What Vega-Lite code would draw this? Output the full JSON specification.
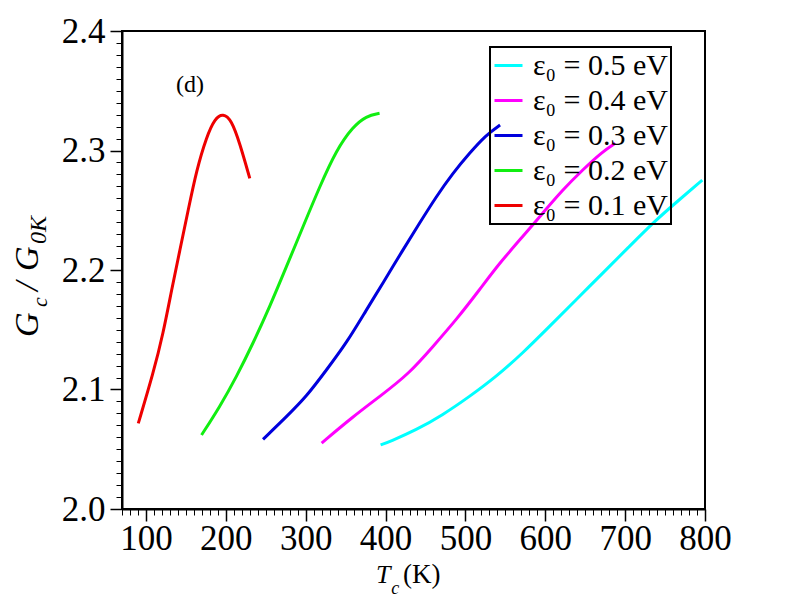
{
  "$schema": "https://vega.github.io/schema/vega-lite/v6.json",
  "width": 583,
  "height": 478,
  "autosize": {"type": "none"},
  "padding": {"left": 122, "top": 31, "right": 87, "bottom": 103},
  "background": "white",
  "config": {
    "view": {"stroke": "black", "strokeWidth": 2},
    "font": "Liberation Serif",
    "text": {"font": "Liberation Serif", "color": "black"},
    "axis": {
      "grid": false,
      "domainColor": "black",
      "domainWidth": 2,
      "tickColor": "black",
      "tickWidth": 1.5,
      "labelColor": "black",
      "labelFont": "Liberation Serif",
      "labelFontSize": 35,
      "title": null
    },
    "legend": {
      "orient": "none",
      "legendX": 368,
      "legendY": 16,
      "title": null,
      "strokeColor": "black",
      "strokeWidth": 2,
      "padding": 3,
      "symbolType": "stroke",
      "symbolSize": 784,
      "symbolStrokeWidth": 3,
      "labelFont": "Liberation Serif",
      "labelFontSize": 30,
      "labelColor": "black",
      "labelOffset": 9,
      "rowPadding": 4
    }
  },
  "datasets": {
    "curves": [
      {"eps": "ε₀ = 0.1 eV", "T": 90.4, "G": 2.0717},
      {"eps": "ε₀ = 0.1 eV", "T": 109.1, "G": 2.1136},
      {"eps": "ε₀ = 0.1 eV", "T": 121.6, "G": 2.147},
      {"eps": "ε₀ = 0.1 eV", "T": 132.1, "G": 2.1833},
      {"eps": "ε₀ = 0.1 eV", "T": 142.5, "G": 2.2167},
      {"eps": "ε₀ = 0.1 eV", "T": 152.9, "G": 2.2502},
      {"eps": "ε₀ = 0.1 eV", "T": 163.4, "G": 2.2837},
      {"eps": "ε₀ = 0.1 eV", "T": 175.9, "G": 2.3116},
      {"eps": "ε₀ = 0.1 eV", "T": 186.3, "G": 2.3269},
      {"eps": "ε₀ = 0.1 eV", "T": 196.6, "G": 2.3311},
      {"eps": "ε₀ = 0.1 eV", "T": 207.1, "G": 2.3255},
      {"eps": "ε₀ = 0.1 eV", "T": 217.5, "G": 2.306},
      {"eps": "ε₀ = 0.1 eV", "T": 230.0, "G": 2.2767},
      {"eps": "ε₀ = 0.2 eV", "T": 169.6, "G": 2.0619},
      {"eps": "ε₀ = 0.2 eV", "T": 192.5, "G": 2.0856},
      {"eps": "ε₀ = 0.2 eV", "T": 213.4, "G": 2.1107},
      {"eps": "ε₀ = 0.2 eV", "T": 234.1, "G": 2.1387},
      {"eps": "ε₀ = 0.2 eV", "T": 255.0, "G": 2.1693},
      {"eps": "ε₀ = 0.2 eV", "T": 275.9, "G": 2.2028},
      {"eps": "ε₀ = 0.2 eV", "T": 296.6, "G": 2.2362},
      {"eps": "ε₀ = 0.2 eV", "T": 317.5, "G": 2.2697},
      {"eps": "ε₀ = 0.2 eV", "T": 338.4, "G": 2.3004},
      {"eps": "ε₀ = 0.2 eV", "T": 359.1, "G": 2.3199},
      {"eps": "ε₀ = 0.2 eV", "T": 375.9, "G": 2.3289},
      {"eps": "ε₀ = 0.2 eV", "T": 392.5, "G": 2.3311},
      {"eps": "ε₀ = 0.3 eV", "T": 246.6, "G": 2.0583},
      {"eps": "ε₀ = 0.3 eV", "T": 275.9, "G": 2.0772},
      {"eps": "ε₀ = 0.3 eV", "T": 300.9, "G": 2.094},
      {"eps": "ε₀ = 0.3 eV", "T": 325.9, "G": 2.1163},
      {"eps": "ε₀ = 0.3 eV", "T": 350.9, "G": 2.1387},
      {"eps": "ε₀ = 0.3 eV", "T": 375.9, "G": 2.1665},
      {"eps": "ε₀ = 0.3 eV", "T": 396.6, "G": 2.1889},
      {"eps": "ε₀ = 0.3 eV", "T": 421.6, "G": 2.2167},
      {"eps": "ε₀ = 0.3 eV", "T": 442.5, "G": 2.2391},
      {"eps": "ε₀ = 0.3 eV", "T": 463.4, "G": 2.2613},
      {"eps": "ε₀ = 0.3 eV", "T": 484.1, "G": 2.2809},
      {"eps": "ε₀ = 0.3 eV", "T": 505.0, "G": 2.2977},
      {"eps": "ε₀ = 0.3 eV", "T": 525.9, "G": 2.313},
      {"eps": "ε₀ = 0.3 eV", "T": 543.4, "G": 2.3213},
      {"eps": "ε₀ = 0.4 eV", "T": 320.0, "G": 2.0552},
      {"eps": "ε₀ = 0.4 eV", "T": 359.1, "G": 2.0772},
      {"eps": "ε₀ = 0.4 eV", "T": 392.5, "G": 2.094},
      {"eps": "ε₀ = 0.4 eV", "T": 430.0, "G": 2.1136},
      {"eps": "ε₀ = 0.4 eV", "T": 459.1, "G": 2.1358},
      {"eps": "ε₀ = 0.4 eV", "T": 488.4, "G": 2.1582},
      {"eps": "ε₀ = 0.4 eV", "T": 517.5, "G": 2.1833},
      {"eps": "ε₀ = 0.4 eV", "T": 542.5, "G": 2.2056},
      {"eps": "ε₀ = 0.4 eV", "T": 571.6, "G": 2.2279},
      {"eps": "ε₀ = 0.4 eV", "T": 596.6, "G": 2.2474},
      {"eps": "ε₀ = 0.4 eV", "T": 621.6, "G": 2.2669},
      {"eps": "ε₀ = 0.4 eV", "T": 646.6, "G": 2.2837},
      {"eps": "ε₀ = 0.4 eV", "T": 671.6, "G": 2.299},
      {"eps": "ε₀ = 0.4 eV", "T": 687.5, "G": 2.306},
      {"eps": "ε₀ = 0.5 eV", "T": 393.8, "G": 2.0536},
      {"eps": "ε₀ = 0.5 eV", "T": 405.0, "G": 2.0563},
      {"eps": "ε₀ = 0.5 eV", "T": 438.4, "G": 2.0661},
      {"eps": "ε₀ = 0.5 eV", "T": 471.6, "G": 2.0787},
      {"eps": "ε₀ = 0.5 eV", "T": 505.0, "G": 2.094},
      {"eps": "ε₀ = 0.5 eV", "T": 538.4, "G": 2.1107},
      {"eps": "ε₀ = 0.5 eV", "T": 571.6, "G": 2.1303},
      {"eps": "ε₀ = 0.5 eV", "T": 605.0, "G": 2.1526},
      {"eps": "ε₀ = 0.5 eV", "T": 638.4, "G": 2.1749},
      {"eps": "ε₀ = 0.5 eV", "T": 671.6, "G": 2.1972},
      {"eps": "ε₀ = 0.5 eV", "T": 705.0, "G": 2.2195},
      {"eps": "ε₀ = 0.5 eV", "T": 738.4, "G": 2.2418},
      {"eps": "ε₀ = 0.5 eV", "T": 767.5, "G": 2.2586},
      {"eps": "ε₀ = 0.5 eV", "T": 796.6, "G": 2.2753}
    ],
    "one": [{}]
  },
  "resolve": {"axis": {"x": "independent", "y": "independent"}},
  "layer": [
    {
      "data": {"name": "curves"},
      "mark": {"type": "line", "strokeOpacity": 0},
      "encoding": {
        "x": {"field": "T", "type": "quantitative", "scale": {"domain": [70, 800], "nice": false, "zero": false},
              "axis": {"orient": "bottom", "values": [70,80,90,100,110,120,130,140,150,160,170,180,190,200,210,220,230,240,250,260,270,280,290,300,310,320,330,340,350,360,370,380,390,400,410,420,430,440,450,460,470,480,490,500,510,520,530,540,550,560,570,580,590,600,610,620,630,640,650,660,670,680,690,700,710,720,730,740,750,760,770,780,790,800], "labels": false, "domain": false, "tickSize": 6, "tickWidth": 1}},
        "y": {"field": "G", "type": "quantitative", "scale": {"domain": [2.0, 2.4], "nice": false, "zero": false},
              "axis": {"orient": "left", "values": [2.0,2.01,2.02,2.03,2.04,2.05,2.06,2.07,2.08,2.09,2.1,2.11,2.12,2.13,2.14,2.15,2.16,2.17,2.18,2.19,2.2,2.21,2.22,2.23,2.24,2.25,2.26,2.27,2.28,2.29,2.3,2.31,2.32,2.33,2.34,2.35,2.36,2.37,2.38,2.39,2.4], "labels": false, "domain": false, "tickSize": 6, "tickWidth": 1}},
        "detail": {"field": "eps"}
      }
    },
    {
      "data": {"name": "curves"},
      "mark": {"type": "line", "strokeWidth": 3, "interpolate": "basis"},
      "encoding": {
        "x": {"field": "T", "type": "quantitative",
              "axis": {"orient": "bottom", "values": [100, 200, 300, 400, 500, 600, 700, 800], "tickSize": 12, "labelPadding": 0, "labelFlush": false}},
        "y": {"field": "G", "type": "quantitative",
              "axis": {"orient": "left", "values": [2.0, 2.1, 2.2, 2.3, 2.4], "format": ".1f", "tickSize": 12, "labelPadding": 5}},
        "color": {"field": "eps", "type": "nominal",
                  "scale": {"domain": ["ε₀ = 0.5 eV", "ε₀ = 0.4 eV", "ε₀ = 0.3 eV", "ε₀ = 0.2 eV", "ε₀ = 0.1 eV"],
                            "range": ["#00ffff", "#ff00ff", "#0000dd", "#11ee11", "#ee0000"]}}
      }
    },
    {
      "data": {"name": "one"},
      "mark": {"type": "text", "text": "(d)", "font": "Liberation Serif", "fontSize": 24, "align": "center", "baseline": "alphabetic", "color": "black"},
      "encoding": {
        "x": {"datum": 155, "type": "quantitative", "axis": null},
        "y": {"datum": 2.349, "type": "quantitative", "axis": null}
      }
    },
    {
      "data": {"name": "one"},
      "mark": {"type": "text", "text": "T", "font": "Liberation Serif", "fontSize": 26, "fontStyle": "italic", "align": "left", "baseline": "alphabetic", "color": "black"},
      "encoding": {
        "x": {"datum": 388, "type": "quantitative", "axis": null},
        "y": {"datum": 1.9381, "type": "quantitative", "axis": null}
      }
    },
    {
      "data": {"name": "one"},
      "mark": {"type": "text", "text": "c", "font": "Liberation Serif", "fontSize": 18, "fontStyle": "italic", "align": "left", "baseline": "alphabetic", "color": "black"},
      "encoding": {
        "x": {"datum": 407, "type": "quantitative", "axis": null},
        "y": {"datum": 1.9289, "type": "quantitative", "axis": null}
      }
    },
    {
      "data": {"name": "one"},
      "mark": {"type": "text", "text": "(K)", "font": "Liberation Serif", "fontSize": 27, "align": "left", "baseline": "alphabetic", "color": "black"},
      "encoding": {
        "x": {"datum": 422, "type": "quantitative", "axis": null},
        "y": {"datum": 1.9381, "type": "quantitative", "axis": null}
      }
    },
    {
      "data": {"name": "one"},
      "mark": {"type": "text", "text": "G", "font": "Liberation Serif", "fontSize": 34, "fontStyle": "italic", "angle": 270, "align": "left", "baseline": "alphabetic", "color": "black"},
      "encoding": {
        "x": {"datum": -35, "type": "quantitative", "axis": null},
        "y": {"datum": 2.1439, "type": "quantitative", "axis": null}
      }
    },
    {
      "data": {"name": "one"},
      "mark": {"type": "text", "text": "c", "font": "Liberation Serif", "fontSize": 22, "fontStyle": "italic", "angle": 270, "align": "left", "baseline": "alphabetic", "color": "black"},
      "encoding": {
        "x": {"datum": -23.75, "type": "quantitative", "axis": null},
        "y": {"datum": 2.169, "type": "quantitative", "axis": null}
      }
    },
    {
      "data": {"name": "one"},
      "mark": {"type": "text", "text": "/", "font": "Liberation Serif", "fontSize": 34, "fontStyle": "italic", "angle": 270, "align": "left", "baseline": "alphabetic", "color": "black"},
      "encoding": {
        "x": {"datum": -35, "type": "quantitative", "axis": null},
        "y": {"datum": 2.1824, "type": "quantitative", "axis": null}
      }
    },
    {
      "data": {"name": "one"},
      "mark": {"type": "text", "text": "G", "font": "Liberation Serif", "fontSize": 34, "fontStyle": "italic", "angle": 270, "align": "left", "baseline": "alphabetic", "color": "black"},
      "encoding": {
        "x": {"datum": -35, "type": "quantitative", "axis": null},
        "y": {"datum": 2.1992, "type": "quantitative", "axis": null}
      }
    },
    {
      "data": {"name": "one"},
      "mark": {"type": "text", "text": "0K", "font": "Liberation Serif", "fontSize": 24, "fontStyle": "italic", "angle": 270, "align": "left", "baseline": "alphabetic", "color": "black"},
      "encoding": {
        "x": {"datum": -25, "type": "quantitative", "axis": null},
        "y": {"datum": 2.2218, "type": "quantitative", "axis": null}
      }
    }
  ]
}
